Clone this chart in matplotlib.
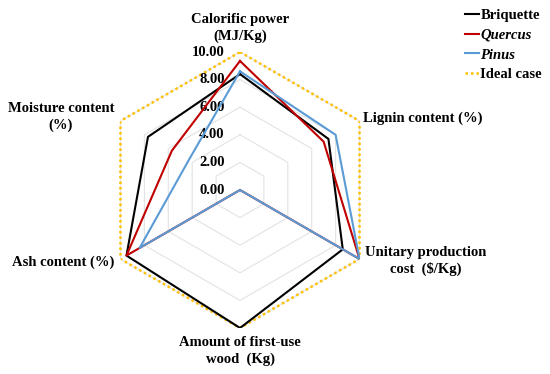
import numpy as np
import matplotlib.pyplot as plt

# categories (clockwise from the top)
categories = ['Calorific power\n(MJ/Kg)', 'Lignin content (%)', 'Unitary production\ncost  ($/Kg)',
              'Amount of first-use\nwood  (Kg)', 'Ash content (%)', 'Moisture content\n(%)']
briquette = [8.4, 7.4, 8.6, 10.0, 9.5, 7.7]
quercus = [9.35, 7.0, 10.0, 0.0, 9.5, 5.7]
pinus = [8.6, 8.0, 10.0, 0.0, 8.4, 4.3]
ideal = [10, 10, 10, 10, 10, 10]
ticks = [0, 2, 4, 6, 8, 10]
tick_labels = ['0.00', '2.00', '4.00', '6.00', '8.00', '10.00']

plt.rcParams['font.family'] = ['Liberation Serif', 'DejaVu Serif']
plt.rcParams['font.weight'] = 'bold'

W, H = 550, 374
fig = plt.figure(figsize=(5.5, 3.74), dpi=100)
cx, cy, R = 240, 190, 138
ax = fig.add_axes([(cx - R) / W, (H - cy - R) / H, 2 * R / W, 2 * R / H], projection='polar')
ax.set_theta_zero_location('N')
ax.set_theta_direction(-1)
ax.set_ylim(0, 10)
ax.set_rorigin(0)

n = len(categories)
theta = np.linspace(0, 2 * np.pi, n, endpoint=False)
tc = np.append(theta, theta[0])

def closed(v):
    return np.append(v, v[0])

# hexagon grid
for t in ticks[1:]:
    ax.plot(tc, [t] * (n + 1), color='#e3e3e3', lw=0.8, zorder=1)

ax.plot(tc, closed(ideal), color='#ffc000', lw=1.8, ls=(0, (1, 1.2)), zorder=2, label='Ideal case')
ax.plot(tc, closed(briquette), color='black', lw=1.5, zorder=3, label='Briquette')
ax.plot(tc, closed(quercus), color='#c00000', lw=1.5, zorder=4, label='Quercus')
ax.plot(tc, closed(pinus), color='#5b9bd5', lw=1.5, zorder=5, label='Pinus')

ax.set_xticks([])
ax.set_yticks([])
ax.grid(False)
ax.spines['polar'].set_visible(False)
ax.patch.set_alpha(0)

for t, lab in zip(ticks, tick_labels):
    ax.annotate(lab, xy=(0, t), xytext=(-11, 0), textcoords='offset points',
                ha='right', va='center', fontsize=10.5, fontweight='bold')

# axis labels
fs = 10.5
def ftxt(x, y, s, **kw):
    fig.text(x / W, 1 - y / H, s, fontsize=fs, fontweight='bold', linespacing=1.25, **kw)

ftxt(240, 28, categories[0], ha='center', va='center')
ftxt(363, 118, categories[1], ha='left', va='center')
ftxt(426, 261, categories[2], ha='center', va='center')
ftxt(240, 351, categories[3], ha='center', va='center')
ftxt(114, 262, categories[4], ha='right', va='center')
ftxt(61, 117, categories[5], ha='center', va='center')

# legend
handles, labels = ax.get_legend_handles_labels()
order = [1, 2, 3, 0]
leg = fig.legend([handles[i] for i in order], [labels[i] for i in order],
                 loc='upper left', bbox_to_anchor=(459 / W, 1 - 3 / H), frameon=False,
                 handlelength=0.95, handletextpad=0.12, labelspacing=0.45, fontsize=fs,
                 borderaxespad=0)
for txt in leg.get_texts():
    txt.set_fontweight('bold')
    if txt.get_text() in ('Quercus', 'Pinus'):
        txt.set_fontstyle('italic')

fig.savefig('out.png', dpi=100)
